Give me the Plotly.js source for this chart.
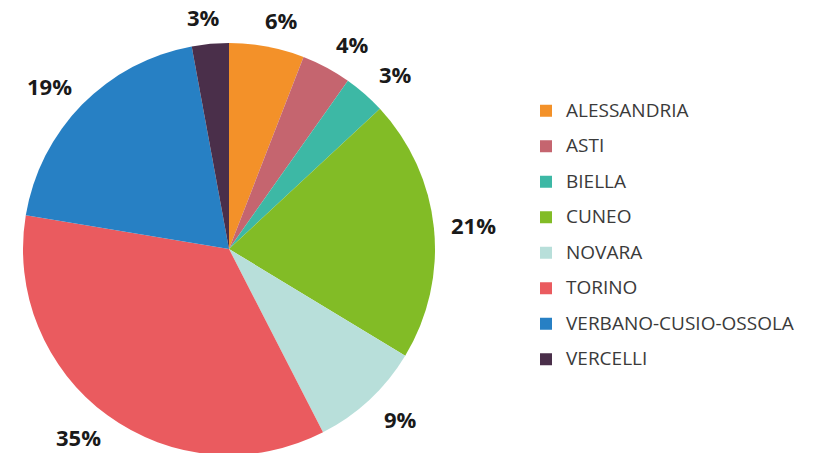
<!DOCTYPE html>
<html>
<head>
<meta charset="utf-8">
<script src="https://cdn.plot.ly/plotly-3.0.1.min.js"></script>
<style>
  html, body { margin: 0; padding: 0; overflow: hidden; background: #fff; }
  #chart { width: 823px; height: 455px; }
</style>
</head>
<body>
<div id="chart"></div>
<script>
// Data
const provinces = ["ALESSANDRIA", "ASTI", "BIELLA", "CUNEO", "NOVARA", "TORINO", "VERBANO-CUSIO-OSSOLA", "VERCELLI"];
const shares = [5.9, 3.9, 3.3, 20.6, 8.8, 35.2, 19.5, 2.9];
const sliceColors = ["#F39129", "#C5656F", "#3DB8A5", "#82BC26", "#B8DFDA", "#EA5B5F", "#2780C4", "#4A2F4A"];

const W = 823, H = 455;
const M = { l: 0, r: 0, t: 43, b: 0 };
const plotW = W - M.l - M.r, plotH = H - M.t - M.b;
const cx = 229, r = plotH / 2, cy = M.t + r;

const total = shares.reduce((a, b) => a + b, 0);
const annotations = [];
let cum = 0;
shares.forEach((v) => {
  const th = (cum + v / 2) / total * 2 * Math.PI;
  cum += v;
  const s = Math.sin(th), c = Math.cos(th);
  const R = r + 27;
  const px = cx + R * s + 13 * Math.sign(s) * Math.min(1, Math.abs(s) * 4), py = cy - R * c;
  annotations.push({
    xref: "paper", yref: "paper",
    x: (px - M.l) / plotW, y: (H - M.b - py) / plotH,
    xanchor: "center", yanchor: "middle",
    text: Math.round(v / total * 100) + "%",
    showarrow: false,
    font: { family: "Open Sans, sans-serif", size: 22, weight: 700, color: "#1a1a1a" }
  });
});

const legendLabels = provinces.map(p => '<span style="font-size:19px;baseline-shift:4px">' + p + '</span>');

const trace = {
  type: "pie",
  labels: legendLabels,
  values: shares,
  sort: false,
  direction: "clockwise",
  rotation: 0,
  textinfo: "none",
  hoverinfo: "none",
  marker: { colors: sliceColors, line: { width: 0 } },
  domain: { x: [(cx - r) / plotW, (cx + r) / plotW], y: [0, 1] }
};

const layout = {
  width: W, height: H,
  margin: { l: M.l, r: M.r, t: M.t, b: M.b, pad: 0 },
  paper_bgcolor: "#ffffff",
  plot_bgcolor: "#ffffff",
  showlegend: true,
  legend: {
    x: 526 / plotW, xanchor: "left",
    y: (H - 235) / plotH, yanchor: "middle",
    font: { family: "Open Sans, sans-serif", size: 25, color: "#3a3a3a" },
    bgcolor: "rgba(0,0,0,0)",
    traceorder: "normal"
  },
  annotations: annotations
};

Plotly.newPlot("chart", [trace], layout, { staticPlot: true, displayModeBar: false });
</script>
</body>
</html>
